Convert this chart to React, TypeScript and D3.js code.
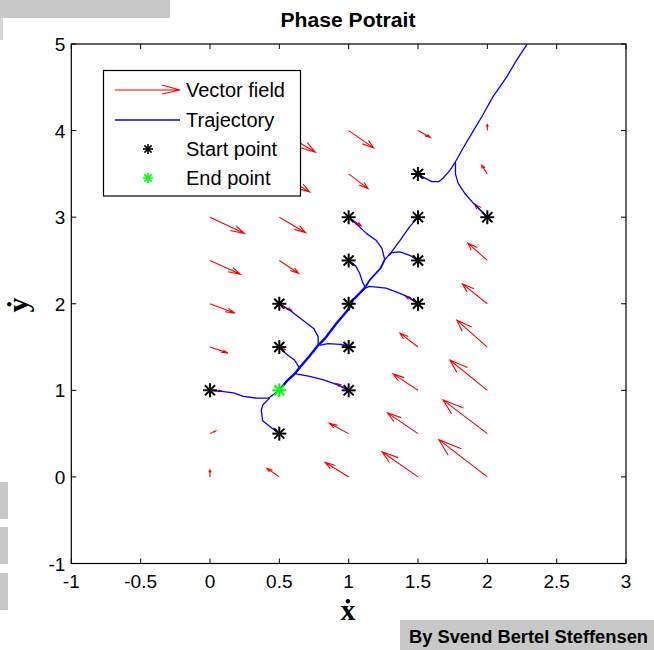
import React from "react";
import * as d3 from "d3";

const X_TICKS = [-1, -0.5, 0, 0.5, 1, 1.5, 2, 2.5, 3];
const Y_TICKS = [-1, 0, 1, 2, 3, 4, 5];

// Vector field grid (tails of the quiver arrows)
const GRID_X = [0, 0.5, 1, 1.5, 2];
const GRID_Y = [0, 0.5, 1, 1.5, 2, 2.5, 3, 3.5, 4];
// rows follow GRID_Y, columns follow GRID_X (displayed arrow components, data units)
const FIELD_U = [
  [0.0, -0.09, -0.17, -0.26, -0.35],
  [0.04, -0.04, -0.14, -0.22, -0.32],
  [0.09, 0.0, -0.09, -0.18, -0.27],
  [0.13, 0.04, -0.04, -0.13, -0.22],
  [0.18, 0.09, 0.0, -0.09, -0.18],
  [0.22, 0.14, 0.04, -0.04, -0.14],
  [0.25, 0.19, 0.09, 0.0, -0.09],
  [0.3, 0.22, 0.14, 0.04, -0.04],
  [0.35, 0.26, 0.18, 0.09, 0.0],
];
const FIELD_V = [
  [0.08, 0.1, 0.17, 0.29, 0.43],
  [0.03, 0.06, 0.12, 0.24, 0.39],
  [-0.01, 0.01, 0.08, 0.19, 0.35],
  [-0.07, -0.03, 0.03, 0.16, 0.31],
  [-0.11, -0.08, -0.01, 0.09, 0.23],
  [-0.16, -0.15, -0.06, 0.05, 0.2],
  [-0.19, -0.18, -0.1, 0.0, 0.15],
  [-0.24, -0.21, -0.17, -0.05, 0.1],
  [-0.29, -0.25, -0.2, -0.08, 0.07],
];

const START_POINTS = [
  [0, 1], [0.5, 0.5], [0.5, 1.5], [0.5, 2], [1, 1], [1, 1.5], [1, 2],
  [1, 2.5], [1, 3], [1.5, 2], [1.5, 2.5], [1.5, 3], [1.5, 3.5], [2, 3],
];
const END_POINT = [0.5, 1];

// Trajectory pieces (data coordinates)
const TRUNK_LOW = [
  [0.5, 1.0], [0.55, 1.1], [0.61, 1.19], [0.65, 1.27], [0.72, 1.4], [0.78, 1.52],
  [0.83, 1.6], [0.91, 1.77], [1.0, 1.94], [1.03, 2.04], [1.12, 2.19],
];
const TRUNK_MID = [[1.12, 2.19], [1.15, 2.27], [1.23, 2.41], [1.26, 2.51]];
const TRUNK_TOP = [[1.26, 2.51], [1.3, 2.58], [1.37, 2.73], [1.44, 2.89], [1.5, 3.0]];
const BRANCHES = [
  [[1, 3], [1.07, 2.9], [1.13, 2.81], [1.2, 2.73], [1.24, 2.64], [1.26, 2.51]],
  [[1.5, 2.5], [1.44, 2.56], [1.37, 2.6], [1.31, 2.59], [1.29, 2.56]],
  [[1, 2.5], [1.05, 2.44], [1.08, 2.35], [1.1, 2.25], [1.12, 2.19]],
  [[1.5, 2], [1.44, 2.07], [1.37, 2.12], [1.27, 2.18], [1.15, 2.2], [1.12, 2.18]],
  [[0.5, 2], [0.58, 1.92], [0.67, 1.81], [0.75, 1.71], [0.78, 1.62], [0.78, 1.52]],
  [[1, 1.5], [0.94, 1.53], [0.85, 1.54], [0.79, 1.52]],
  [[0.5, 1.5], [0.55, 1.42], [0.61, 1.35], [0.64, 1.27], [0.65, 1.25]],
  [[1, 1], [0.91, 1.07], [0.82, 1.12], [0.72, 1.16], [0.62, 1.19]],
  [[0, 1], [0.07, 0.99], [0.17, 0.97], [0.24, 0.93], [0.34, 0.91], [0.42, 0.91], [0.43, 0.92], [0.5, 1.0]],
  [[0.5, 0.5], [0.45, 0.56], [0.38, 0.65], [0.37, 0.77], [0.38, 0.83], [0.43, 0.91]],
  [[1.5, 3.5], [1.54, 3.46], [1.6, 3.41], [1.65, 3.41], [1.68, 3.45], [1.73, 3.54], [1.77, 3.64]],
  [[2, 3], [1.95, 3.08], [1.9, 3.16], [1.84, 3.27], [1.79, 3.39], [1.77, 3.5], [1.77, 3.64]],
  [[1.77, 3.64], [1.83, 3.81], [1.9, 4.0], [1.96, 4.16], [2.04, 4.39], [2.14, 4.62], [2.21, 4.81], [2.28, 4.98], [2.35, 5.2]],
];

const LEGEND_LABELS = ["Vector field", "Trajectory", "Start point", "End point"];

const W = 654;
const H = 650;
const M = { left: 71.3, right: 626, top: 44, bottom: 563.5 };

const x = d3.scaleLinear().domain([-1, 3]).range([M.left, M.right]);
const y = d3.scaleLinear().domain([-1, 5]).range([M.bottom, M.top]);
const line = d3
  .line<number[]>()
  .x((d) => x(d[0]))
  .y((d) => y(d[1]));

const SANS = "'Liberation Sans', Arial, sans-serif";
const SERIF = "'Liberation Serif', 'DejaVu Serif', serif";

function Star({ cx, cy, color, r = 7, w = 2 }: { cx: number; cy: number; color: string; r?: number; w?: number }) {
  const d = r * 0.72;
  return (
    <g stroke={color} strokeWidth={w} fill="none">
      <line x1={cx - r} y1={cy} x2={cx + r} y2={cy} />
      <line x1={cx} y1={cy - r} x2={cx} y2={cy + r} />
      <line x1={cx - d} y1={cy - d} x2={cx + d} y2={cy + d} />
      <line x1={cx - d} y1={cy + d} x2={cx + d} y2={cy - d} />
    </g>
  );
}

function quiverPath(x0: number, y0: number, u: number, v: number) {
  const a = 0.33;
  const b = 0.33;
  const tx = x0 + u;
  const ty = y0 + v;
  const h1 = [tx - a * (u + b * v), ty - a * (v - b * u)];
  const h2 = [tx - a * (u - b * v), ty - a * (v + b * u)];
  return (
    `M${x(x0)},${y(y0)}L${x(tx)},${y(ty)}` +
    `M${x(h1[0])},${y(h1[1])}L${x(tx)},${y(ty)}L${x(h2[0])},${y(h2[1])}`
  );
}

export default function App() {
  const arrows: JSX.Element[] = [];
  GRID_Y.forEach((gy, i) => {
    GRID_X.forEach((gx, j) => {
      arrows.push(
        <path
          key={`a${i}-${j}`}
          d={quiverPath(gx, gy, FIELD_U[i][j], FIELD_V[i][j])}
          stroke="#ff0000"
          strokeWidth={1.1}
          fill="none"
        />
      );
    });
  });

  const lx = 103.5;
  const ly = 70.5;
  const lw = 197;
  const lh = 125.5;
  const rowY = [90, 120, 149, 178];

  return (
    <svg
      width={W}
      height={H}
      style={{ position: "absolute", left: 0, top: 0, background: "#fff" }}
      xmlns="http://www.w3.org/2000/svg"
    >
      <defs>
        <clipPath id="plotClip">
          <rect x={M.left} y={M.top} width={M.right - M.left} height={M.bottom - M.top} />
        </clipPath>
      </defs>
      <rect x={0} y={0} width={W} height={H} fill="#fff" />
      {/* decorative gray patches */}
      <rect x={0} y={0} width={170} height={18} fill="#c8c8c8" />
      <rect x={0} y={18} width={3} height={22} fill="#d4d4d4" />
      <rect x={0} y={482} width={8} height={37} fill="#c8c8c8" />
      <rect x={0} y={527} width={8} height={37} fill="#c8c8c8" />
      <rect x={0} y={573} width={8} height={37} fill="#c8c8c8" />

      <text
        x={348}
        y={27}
        textAnchor="middle"
        fontFamily={SANS}
        fontWeight="bold"
        fontSize={20}
        textLength={135}
        lengthAdjust="spacingAndGlyphs"
      >
        Phase Potrait
      </text>

      <g clipPath="url(#plotClip)">
        {arrows}
        <g stroke="#0000ff" fill="none" strokeLinejoin="round">
          <path d={line(TRUNK_LOW) || ""} strokeWidth={2.4} />
          <path d={line(TRUNK_MID) || ""} strokeWidth={1.8} />
          <path d={line(TRUNK_TOP) || ""} strokeWidth={1.3} />
          {BRANCHES.map((b, i) => (
            <path key={i} d={line(b) || ""} strokeWidth={1.3} />
          ))}
        </g>
        {START_POINTS.map((p, i) => (
          <Star key={i} cx={x(p[0])} cy={y(p[1])} color="#000" />
        ))}
        <Star cx={x(END_POINT[0])} cy={y(END_POINT[1])} color="#00ff00" />
      </g>

      {/* axes box */}
      <rect
        x={M.left}
        y={M.top}
        width={M.right - M.left}
        height={M.bottom - M.top}
        fill="none"
        stroke="#000"
        strokeWidth={1.2}
      />
      {X_TICKS.map((t) => (
        <g key={`xt${t}`}>
          <line x1={x(t)} x2={x(t)} y1={M.bottom} y2={M.bottom - 5} stroke="#000" />
          <line x1={x(t)} x2={x(t)} y1={M.top} y2={M.top + 5} stroke="#000" />
          <text x={x(t)} y={M.bottom + 24} textAnchor="middle" fontFamily={SANS} fontSize={19}>
            {t}
          </text>
        </g>
      ))}
      {Y_TICKS.map((t) => (
        <g key={`yt${t}`}>
          <line x1={M.left} x2={M.left + 5} y1={y(t)} y2={y(t)} stroke="#000" />
          <line x1={M.right} x2={M.right - 5} y1={y(t)} y2={y(t)} stroke="#000" />
          <text x={M.left - 6} y={y(t) + 7} textAnchor="end" fontFamily={SANS} fontSize={19}>
            {t}
          </text>
        </g>
      ))}

      <text x={348} y={620} textAnchor="middle" fontFamily={SERIF} fontSize={30} fontWeight="bold">
        ẋ
      </text>
      <text
        transform={`translate(28,305) rotate(-90)`}
        textAnchor="middle"
        fontFamily={SERIF}
        fontSize={30}
        fontWeight="bold"
      >
        ẏ
      </text>

      {/* legend */}
      <rect x={lx} y={ly} width={lw} height={lh} fill="#fff" stroke="#000" strokeWidth={1.2} />
      <path
        d={`M115,${rowY[0]}L180,${rowY[0]}M162,${rowY[0] - 5}L180,${rowY[0]}L162,${rowY[0] + 4}`}
        stroke="#ff0000"
        strokeWidth={1.2}
        fill="none"
      />
      <line x1={115} x2={180} y1={rowY[1]} y2={rowY[1]} stroke="#0000ff" strokeWidth={1.3} />
      <Star cx={148} cy={rowY[2]} color="#000" r={5} w={1.6} />
      <Star cx={148} cy={rowY[3]} color="#00ff00" r={5} w={1.6} />
      {LEGEND_LABELS.map((l, i) => (
        <text key={l} x={186} y={rowY[i] + 7} fontFamily={SANS} fontSize={20}>
          {l}
        </text>
      ))}

      {/* credit */}
      <rect x={400} y={620} width={254} height={30} fill="#c8c8c8" />
      <text
        x={409}
        y={643}
        fontFamily={SANS}
        fontWeight="bold"
        fontSize={18}
        textLength={239}
        lengthAdjust="spacingAndGlyphs"
      >
        By Svend Bertel Steffensen
      </text>
    </svg>
  );
}
